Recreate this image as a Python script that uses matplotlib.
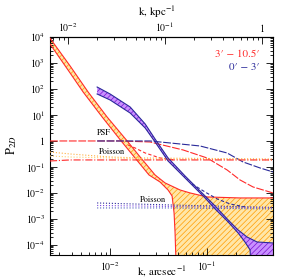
import numpy as np
import matplotlib
matplotlib.use("Agg")
import matplotlib.pyplot as plt
from matplotlib.ticker import LogLocator, FuncFormatter, NullFormatter

plt.rcParams['font.family'] = 'STIXGeneral'
plt.rcParams['mathtext.fontset'] = 'stix'
plt.rcParams['hatch.linewidth'] = 0.5

# k in arcsec^-1, P_2D
# 3' - 10.5' annulus (red / orange band)
k_out_up = [0.0024, 0.00387, 0.00593, 0.00931, 0.0150, 0.0204, 0.0291, 0.0369, 0.0527, 0.0669, 0.100, 0.219, 0.479]
p_out_up = [9e3, 767, 76.7, 8.38, 1.0, 0.242, 0.0492, 0.0243, 0.0130, 0.0100, 0.00702, 0.00642, 0.00642]
k_out_lo = [0.0024, 0.00387, 0.00527, 0.00828, 0.0130, 0.0181, 0.0252, 0.0327, 0.0396, 0.0436, 0.0457, 0.0468, 0.0491, 0.479]
p_out_lo = [5.38e3, 412, 76.7, 8.38, 1.0, 0.222, 0.0492, 0.0265, 0.0130, 0.00767, 0.00170, 2.9e-4, 1e-6, 1e-6]

# 0' - 3' (blue / purple band)
k_in_up = [0.00735, 0.0100, 0.0161, 0.0230, 0.0291, 0.0396, 0.0593, 0.0954, 0.121, 0.165, 0.209, 0.258, 0.328, 0.479]
p_in_up = [119, 64.2, 20.3, 4.51, 1.19, 0.222, 0.0451, 0.00767, 0.00316, 9.15e-4, 3.77e-4, 2.03e-4, 1.30e-4, 1.19e-4]
k_in_lo = [0.00735, 0.0100, 0.0161, 0.0230, 0.0291, 0.0396, 0.0593, 0.0954, 0.121, 0.165, 0.209, 0.246, 0.278, 0.291, 0.479]
p_in_lo = [64.2, 37.8, 11.9, 3.16, 0.915, 0.170, 0.0377, 0.00642, 0.00243, 7.67e-4, 2.90e-4, 1.30e-4, 6.42e-5, 1e-6, 1e-6]

# PSF curves
k_psf_out = [0.0024, 0.0127, 0.0258, 0.0566, 0.100, 0.161, 0.219, 0.298, 0.479]
p_psf_out = [1.0, 1.0, 0.915, 0.451, 0.222, 0.0767, 0.0316, 0.0170, 0.0100]
k_psf_in = [0.00735, 0.0258, 0.0847, 0.161, 0.235, 0.352, 0.479]
p_psf_in = [1.0, 1.0, 0.642, 0.345, 0.156, 0.0915, 0.0642]

# models (dashed)
k_mod_out = [0.0153, 0.0181, 0.0230, 0.0327, 0.0468]
p_mod_out = [0.702, 0.538, 0.345, 0.222, 0.186]
k_mod_in = [0.0700, 0.0954, 0.127, 0.173, 0.246]
p_mod_in = [0.0222, 0.0109, 0.00588, 0.00377, 0.00290]

# Poisson levels
k_poi_out = [0.0024, 0.00387, 0.0100, 0.0204, 0.479]
p_poi_out = [[0.377, 0.316, 0.242, 0.222, 0.203],
             [0.265, 0.242, 0.222, 0.203, 0.186],
             [0.170, 0.186, 0.186, 0.186, 0.186]]
k_poi_in = [0.00735, 0.0416, 0.479]
p_poi_in = [[0.00412, 0.00345, 0.00277],
            [0.00330, 0.00303, 0.00265],
            [0.00265, 0.00265, 0.00243]]

red = '#ff2a2a'
blue = '#2a2a9a'
kpc_per_arcsec = 2.71

fig = plt.figure(figsize=(2.93, 2.78), dpi=100)
ax = fig.add_axes([50/293, 23/278, 223/293, 218/278])
ax.set_xscale('log')
ax.set_yscale('log')

# hatched bands
ax.fill(np.concatenate([k_out_up, k_out_lo[::-1]]), np.concatenate([p_out_up, p_out_lo[::-1]]),
        facecolor='#ffe6a8', edgecolor='#ff9c00', hatch='//////', lw=0, zorder=1)
ax.fill(np.concatenate([k_in_up, k_in_lo[::-1]]), np.concatenate([p_in_up, p_in_lo[::-1]]),
        facecolor='#c890ff', edgecolor='#7a10d0', hatch='//////', lw=0, zorder=2)
ax.plot(k_out_up, p_out_up, color=red, lw=0.8, zorder=3)
ax.plot(k_out_lo, p_out_lo, color=red, lw=0.8, zorder=3)
ax.plot(k_in_up, p_in_up, color=blue, lw=0.8, zorder=4)
ax.plot(k_in_lo, p_in_lo, color=blue, lw=0.8, zorder=4)

ax.plot(k_psf_out, p_psf_out, color=red, lw=0.8, dashes=(7, 1.5), zorder=3)
ax.plot(k_psf_in, p_psf_in, color=blue, lw=0.8, dashes=(7, 1.5), zorder=3)
ax.plot(k_mod_out, p_mod_out, color=red, lw=0.8, dashes=(3, 2), zorder=3)
ax.plot(k_mod_in, p_mod_in, color=blue, lw=0.8, dashes=(3, 2), zorder=4)

for p, c, ls in zip(p_poi_out, ['#ffb040', '#ffd070', red], [':', ':', '-.']):
    ax.plot(k_poi_out, p, color=c, lw=0.8, ls=ls, zorder=3)
for p, c in zip(p_poi_in, [blue, '#7a4ae0', '#5060c0']):
    ax.plot(k_poi_in, p, color=c, lw=0.8, ls=':', zorder=4)

ax.text(0.00867, 2.03, 'PSF', fontsize=6, ha='center', va='center')
ax.text(0.0105, 0.377, 'Poisson', fontsize=6, ha='center', va='center')
ax.text(0.0277, 0.00538, 'Poisson', fontsize=6, ha='center', va='center')
ax.text(0.942, 0.922, "3\u2032 \u2212 10.5\u2032", color=red, fontsize=8, ha='right', va='center', transform=ax.transAxes)
ax.text(0.942, 0.862, "0\u2032 \u2212 3\u2032", color=blue, fontsize=8, ha='right', va='center', transform=ax.transAxes)


def logfmt(v, pos):
    e = int(round(np.log10(v)))
    if e == 0:
        return '1'
    return '$10^{%d}$' % e


ax.set_xticks([0.01, 0.1])
ax.set_yticks([10.0 ** e for e in range(-4, 5)])
ax.yaxis.set_minor_locator(LogLocator(base=10, subs=np.arange(2, 10) * 1.0, numticks=100))
ax.xaxis.set_minor_locator(LogLocator(base=10, subs=np.arange(2, 10) * 1.0, numticks=100))
ax.yaxis.set_major_formatter(FuncFormatter(logfmt))
ax.yaxis.set_minor_formatter(NullFormatter())
ax.xaxis.set_major_formatter(FuncFormatter(logfmt))
ax.xaxis.set_minor_formatter(NullFormatter())
ax.set_xlim(0.0024, 0.479)
ax.set_ylim(4.1e-5, 1e4)
ax.tick_params(which='both', direction='in', right=True, top=False, labelsize=7, width=0.6)
ax.tick_params(which='major', length=5)
ax.tick_params(which='minor', length=2.5)

sec = ax.secondary_xaxis('top', functions=(lambda k: k * kpc_per_arcsec, lambda k: k / kpc_per_arcsec))
sec.set_xticks([0.01, 0.1, 1.0])
sec.xaxis.set_minor_locator(LogLocator(base=10, subs=np.arange(2, 10) * 1.0, numticks=100))
sec.xaxis.set_major_formatter(FuncFormatter(logfmt))
sec.xaxis.set_minor_formatter(NullFormatter())
sec.tick_params(which='both', direction='in', labelsize=7, width=0.6, pad=2)
sec.tick_params(which='major', length=5)
sec.tick_params(which='minor', length=2.5)

for s in ax.spines.values():
    s.set_linewidth(0.8)

fig.text(162/293, 1 - 272/278, 'k, arcsec$^{-1}$', fontsize=8, ha='center', va='center')
fig.text(157/293, 1 - 12/278, 'k, kpc$^{-1}$', fontsize=8, ha='center', va='center')
fig.text(12/293, 1 - 145/278, 'P$_{2D}$', fontsize=9, ha='center', va='center', rotation=90)

fig.savefig('out.png', dpi=100)
